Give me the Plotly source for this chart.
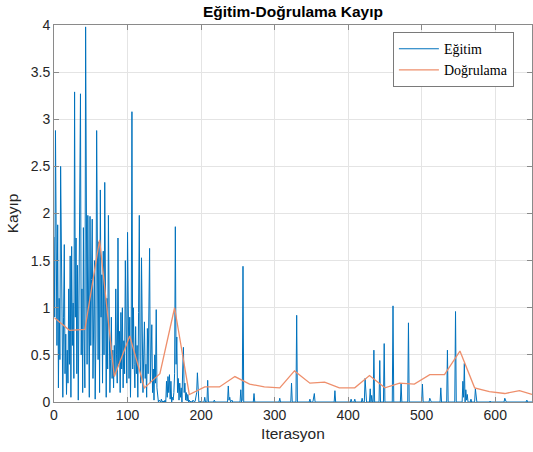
import plotly.graph_objects as go

# ---- Data ----
title_text = "Eğitim-Doğrulama Kayıp"
x_label = "Iterasyon"
y_label = "Kayıp"
train_name = "Eğitim"
val_name = "Doğrulama"

# Training loss: dense part, iterations 0..199
train_dense_loss = [
    1.75, 0.9, 2.88, 1.3, 0.6, 1.88, 0.15, 1.1, 0.45, 2.5,
    1.4, 0.35, 0.05, 0.9, 1.67, 0.3, 0.72, 0.08, 0.55, 0.2,
    1.2, 0.4, 1.55, 0.05, 1.65, 0.6, 1.05, 0.25, 3.29, 0.9,
    1.74, 0.3, 1.45, 0.02, 0.85, 1.6, 3.27, 0.5, 1.2, 0.1,
    1.85, 0.7, 0.15, 3.98, 1.1, 0.4, 1.98, 0.8, 0.05, 1.97,
    0.6, 1.3, 1.94, 0.25, 0.95, 1.5, 0.03, 0.7, 2.88, 1.2,
    0.45, 1.7, 0.1, 2.25, 0.9, 1.35, 0.2, 1.6, 0.5, 2.33,
    0.8, 0.05, 1.1, 0.35, 1.98, 0.6, 0.1, 0.45, 0.9, 0.25,
    0.55, 0.15, 0.6, 0.3, 1.2, 0.5, 0.2, 1.74, 0.4, 0.75,
    0.1, 0.95, 0.35, 1.0, 0.15, 0.65, 0.3, 1.5, 0.45, 0.2,
    1.8, 0.6, 0.25, 0.9, 0.05, 0.7, 3.08, 0.35, 1.0, 0.4,
    0.15, 0.8, 0.3, 0.6, 0.05, 0.95, 1.98, 0.45, 0.2, 1.53,
    0.7, 0.1, 0.5, 0.85, 0.25, 0.4, 0.05, 0.78, 0.3, 0.9,
    1.63, 0.2, 0.6, 0.82, 0.1, 0.35, 0.02, 0.5, 0.2, 0.98,
    0.15, 0.05, 0.0, 0.02, 0.01, 0.0, 0.03, 0.0, 0.01, 0.0,
    0.0, 0.02, 0.0, 0.22, 0.05, 0.27, 0.1, 0.29, 0.03, 0.22,
    0.0, 0.05, 0.02, 0.1, 0.3, 1.86, 0.4, 0.69, 0.1, 0.25,
    0.02, 0.2, 0.05, 0.15, 0.0, 0.35, 0.58, 0.1, 0.2, 0.02,
    0.1, 0.01, 0.08, 0.0, 0.02, 0.0, 0.01, 0.0, 0.0, 0.02,
    0.0, 0.0, 0.01, 0.05, 0.1, 0.31, 0.02, 0.0, 0.0, 0.01,
]
train_dense_iter = list(range(len(train_dense_loss)))

# Training loss: sparse part (iteration, loss) from 200 to 650
train_sparse_iter = [
    200, 204, 205, 206, 208, 209, 210, 217, 218, 219,
    236, 237, 238, 239, 240, 242, 243, 253, 254, 255, 256, 257, 258,
    271, 272, 273, 306, 307, 308, 322, 323, 324, 329, 330, 331,
    347, 348, 349, 352, 353, 354, 355, 381, 382, 383,
    403, 404, 405, 408, 409, 410, 418, 419, 420, 422, 423, 424, 425,
    429, 430, 431, 432, 433, 434, 435, 436, 442, 443, 444,
    448, 449, 450, 460, 461, 462, 471, 472, 473, 481, 482, 483,
    500, 501, 502, 510, 511, 512, 513, 525, 526, 527,
    534, 535, 536, 545, 546, 547,
    555, 556, 557, 558, 559, 560, 561, 562, 563,
    566, 567, 568, 572, 573, 574, 575, 592, 593, 594,
    612, 613, 614, 615, 642, 643, 644, 650,
]
train_sparse_loss = [
    0.0, 0.0, 0.05, 0.0, 0.0, 0.23, 0.0, 0.0, 0.02, 0.0,
    0.0, 0.17, 0.02, 0.05, 0.0, 0.02, 0.0, 0.0, 0.13, 0.0, 0.02, 1.44, 0.0,
    0.0, 0.09, 0.0, 0.0, 0.04, 0.0, 0.0, 0.2, 0.0, 0.0, 0.92, 0.0,
    0.0, 0.03, 0.0, 0.0, 0.07, 0.09, 0.0, 0.0, 0.12, 0.0,
    0.0, 0.03, 0.0, 0.0, 0.03, 0.0, 0.0, 0.04, 0.0, 0.0, 0.25, 0.02, 0.0,
    0.0, 0.14, 0.0, 0.07, 0.0, 0.0, 0.55, 0.0, 0.0, 0.44, 0.0,
    0.0, 0.62, 0.0, 0.0, 1.02, 0.0, 0.0, 0.2, 0.0, 0.0, 0.84, 0.0,
    0.0, 0.19, 0.0, 0.0, 0.04, 0.02, 0.0, 0.0, 0.15, 0.0,
    0.0, 0.55, 0.0, 0.0, 0.96, 0.0,
    0.0, 0.22, 0.05, 0.41, 0.0, 0.13, 0.02, 0.08, 0.0,
    0.0, 0.03, 0.0, 0.0, 0.14, 0.04, 0.0, 0.0, 0.01, 0.0,
    0.0, 0.04, 0.02, 0.0, 0.0, 0.02, 0.0, 0.0,
]

train_iter = train_dense_iter + train_sparse_iter
train_loss = train_dense_loss + train_sparse_loss

# Validation loss
val_iter = [1, 21, 42, 62, 82, 103, 123, 144, 164, 184, 205, 225, 246, 266, 286,
            307, 327, 348, 368, 388, 409, 429, 450, 470, 490, 511, 531, 552, 572,
            592, 613, 633, 650]
val_loss = [0.89, 0.76, 0.77, 1.72, 0.27, 0.70, 0.15, 0.30, 1.00, 0.08, 0.16, 0.16,
            0.27, 0.19, 0.16, 0.15, 0.33, 0.20, 0.21, 0.15, 0.15, 0.28, 0.15, 0.20,
            0.19, 0.29, 0.29, 0.54, 0.15, 0.11, 0.09, 0.12, 0.08]

y_ticks = [0, 0.5, 1, 1.5, 2, 2.5, 3, 3.5, 4]
x_ticks = [0, 100, 200, 300, 400, 500, 600]

# ---- Figure ----
fig = go.Figure()
fig.add_trace(go.Scatter(x=train_iter, y=train_loss, mode="lines", name=train_name,
                         line=dict(color="#0072BD", width=1)))
fig.add_trace(go.Scatter(x=val_iter, y=val_loss, mode="lines", name=val_name,
                         line=dict(color="#EE8F6C", width=1.3)))

axis_common = dict(
    showline=True, linecolor="#8a8a8a", linewidth=1, mirror="ticks",
    ticks="inside", ticklen=5, tickcolor="#8a8a8a",
    showgrid=True, gridcolor="#e4e4e4", gridwidth=1, zeroline=False,
    automargin=False,
    tickfont=dict(family="Liberation Sans, Arial, sans-serif", size=14, color="#262626"),
)

fig.update_layout(
    width=533, height=452,
    margin=dict(l=54, r=1, t=25, b=50, autoexpand=False),
    paper_bgcolor="white", plot_bgcolor="white",
    title=dict(text="<b>" + title_text + "</b>", x=0.5, xref="paper", xanchor="center",
               y=1 - 12 / 452, yref="container", yanchor="middle", automargin=False,
               font=dict(family="Liberation Sans, Arial, sans-serif", size=15.5, color="#000000")),
    xaxis=dict(range=[0, 650], tickvals=x_ticks,
               title=dict(text=x_label, standoff=6,
                          font=dict(family="Liberation Sans, Arial, sans-serif", size=15.5, color="#262626")),
               **axis_common),
    yaxis=dict(range=[0, 4], tickvals=y_ticks,
               title=dict(text=y_label, standoff=8,
                          font=dict(family="Liberation Sans, Arial, sans-serif", size=15.5, color="#262626")),
               **axis_common),
    legend=dict(x=0.709, y=0.981, xanchor="left", yanchor="top",
                bgcolor="white", bordercolor="#7a7a7a", borderwidth=1,
                font=dict(family="Liberation Serif, Times New Roman, serif", size=14, color="#000000"),
                itemwidth=40, tracegroupgap=0),
    showlegend=True,
)

fig.write_html("out.html", config={"displayModeBar": False},
               post_script="document.body.style.margin='0px';")
